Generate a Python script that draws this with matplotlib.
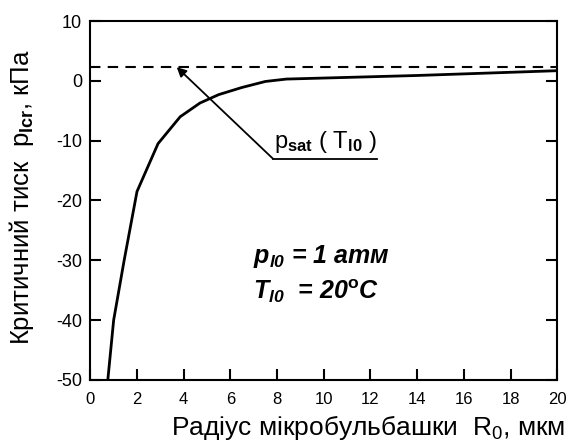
import numpy as np
import matplotlib
matplotlib.use("Agg")
import matplotlib.pyplot as plt

plt.rcParams['font.family'] = ['Liberation Sans', 'DejaVu Sans']
plt.rcParams['axes.unicode_minus'] = False
plt.rcParams['mathtext.fontset'] = 'custom'
plt.rcParams['mathtext.rm'] = 'Liberation Sans'
plt.rcParams['mathtext.it'] = 'Liberation Sans:italic'
plt.rcParams['mathtext.bf'] = 'Liberation Sans:bold'
plt.rcParams['mathtext.bfit'] = 'Liberation Sans:italic:bold'

radius = [0.75, 1.0, 1.45, 2.0, 2.9, 3.85, 4.7, 5.5, 6.5, 7.5, 8.4, 14.0, 20.0]
p_crit = [-50, -40, -30, -18.5, -10.5, -6.0, -3.7, -2.3, -1.1, -0.1, 0.3, 0.9, 1.7]
p_sat = 2.3  # kPa, saturation pressure at 20 C

x_ticks = [0, 2, 4, 6, 8, 10, 12, 14, 16, 18, 20]
y_ticks = [-50, -40, -30, -20, -10, 0, 10]

fig = plt.figure(figsize=(5.68, 4.48), dpi=100)
ax = fig.add_axes([0.159, 0.152, 0.822, 0.801])

ax.plot(radius, p_crit, color='black', lw=2.0, solid_joinstyle='miter')
ax.axhline(p_sat, color='black', lw=1.5, dashes=(5, 3.5))

ax.set_xlim(0, 20)
ax.set_ylim(-50, 10)
ax.set_xticks(x_ticks)
ax.set_yticks(y_ticks)
ax.tick_params(direction='in', length=8, width=1.5, right=True, top=False)
ax.tick_params(axis='x', labelsize=12, pad=9)
ax.tick_params(axis='y', labelsize=13, pad=6)
for s in ax.spines.values():
    s.set_linewidth(1.5)

ax.set_ylabel(r'Критичний тиск  p$_{\mathbf{lcr}}$, кПа', fontsize=18.5)
ax.yaxis.set_label_coords(-0.147, 0.51)
ax.yaxis.label.set_verticalalignment('center')
ax.set_xlabel(r'Радіус мікробульбашки  R$_0$, мкм', fontsize=19)
ax.xaxis.set_label_coords(1.018, -0.134)
ax.xaxis.label.set_horizontalalignment('right')
ax.xaxis.label.set_verticalalignment('center')

# leader arrow to the saturation line
ax.annotate('', xy=(3.7, p_sat), xytext=(7.82, -13.0),
            arrowprops=dict(arrowstyle='-|>', color='black', lw=1.3,
                            mutation_scale=14, shrinkA=0, shrinkB=0))
ax.plot([7.82, 12.3], [-13.0, -13.0], color='black', lw=1.3)
ax.text(7.85, -10.3, r'p$_{\mathbf{sat}}$ ( T$_{\mathbf{l0}}$ )', fontsize=17,
        va='center', ha='left')

ax.text(6.95, -29.3, r'$\mathbfit{p}_{\mathbfit{l0}}$ = 1 атм', fontsize=18,
        fontweight='bold', fontstyle='italic', va='center', ha='left')
ax.text(6.95, -35.2, r'$\mathbfit{T}_{\mathbfit{l0}}$  = 20$\mathbf{^{o}}$C', fontsize=18,
        fontweight='bold', fontstyle='italic', va='center', ha='left')

fig.savefig('out.png', dpi=100)
